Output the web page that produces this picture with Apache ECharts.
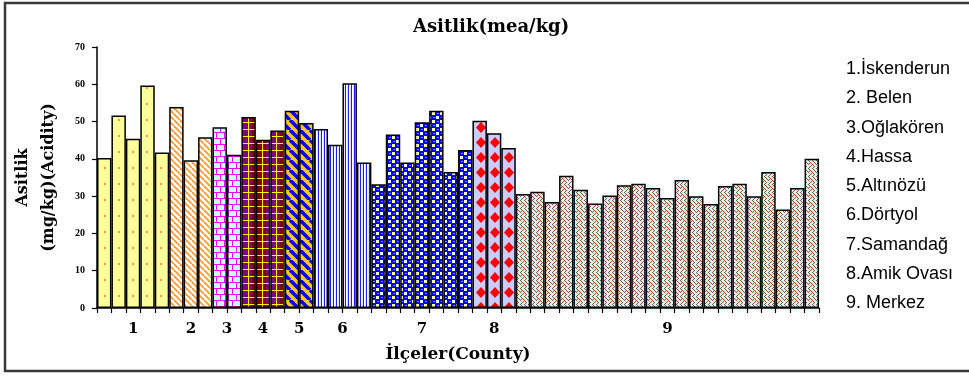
<!DOCTYPE html>
<html>
<head>
<meta charset="utf-8">
<script src="https://cdn.jsdelivr.net/npm/echarts@6/dist/echarts.min.js"></script>
<style>
  html, body { margin: 0; padding: 0; background: #fff; }
  #chart { width: 969px; height: 376px; }
</style>
</head>
<body>
<div id="chart"></div>
<script>
// Acidity (Asitlik) of samples by county (İlçe), one bar per sample
const countyNames = ['1.İskenderun', '2. Belen', '3.Oğlakören', '4.Hassa', '5.Altınözü',
                     '6.Dörtyol', '7.Samandağ', '8.Amik Ovası', '9. Merkez'];
const groupLabels = ['1', '2', '3', '4', '5', '6', '7', '8', '9'];

const iskenderun = [40.2, 51.6, 45.4, 59.7, 41.7];
const belen      = [53.9, 39.6, 45.8];
const oglakoren  = [48.5, 41.1];
const hassa      = [51.2, 45.1, 47.6];
const altinozu   = [52.9, 49.6];
const dortyol    = [48.0, 43.8, 60.3, 39.0];
const samandag   = [33.2, 46.5, 39.0, 49.8, 52.9, 36.5, 42.4];
const amikOvasi  = [50.2, 46.9, 42.9];
const merkez     = [30.6, 31.2, 28.4, 35.5, 31.7, 28.0, 30.2, 32.9, 33.3, 32.2, 29.5,
                    34.3, 30.0, 27.9, 32.7, 33.3, 30.0, 36.5, 26.4, 32.2, 40.0];

const yMin = 0, yMax = 70, yStep = 10;

const groups = [iskenderun, belen, oglakoren, hassa, altinozu, dortyol, samandag, amikOvasi, merkez];

// ---- fill patterns -------------------------------------------------------
function tile(w, h, draw) {
  const c = document.createElement('canvas');
  c.width = w; c.height = h;
  const g = c.getContext('2d');
  draw(g, w, h);
  return { image: c, repeat: 'repeat' };
}
function bitmap(rows, fg, bg) {
  return tile(rows[0].length, rows.length, (g, w, h) => {
    g.fillStyle = bg; g.fillRect(0, 0, w, h);
    g.fillStyle = fg;
    rows.forEach((r, y) => { for (let x = 0; x < r.length; x++) if (r[x] === '1') g.fillRect(x, y, 1, 1); });
  });
}
function diagonal(size, bg, fg, lw) {
  return tile(size, size, (g, w, h) => {
    g.fillStyle = bg; g.fillRect(0, 0, w, h);
    g.strokeStyle = fg; g.lineWidth = lw;
    for (let k = -1; k <= 1; k++) {
      g.beginPath(); g.moveTo(k * w, 0); g.lineTo(k * w + w, h); g.stroke();
    }
  });
}

const patterns = [
  // İskenderun: pale yellow, sparse orange dots
  tile(14, 16, g => {
    g.fillStyle = '#FFFF99'; g.fillRect(0, 0, 14, 16);
    g.fillStyle = '#FF9933'; g.fillRect(6, 7, 2, 2);
  }),
  // Belen: orange diagonal hatch on white
  diagonal(6, '#FFFFFF', '#FF9933', 1.8),
  // Oğlakören: magenta brick on light cyan
  tile(8, 12, g => {
    g.fillStyle = '#CCFFFF'; g.fillRect(0, 0, 8, 12);
    g.fillStyle = '#FF00FF';
    g.fillRect(0, 0, 8, 1); g.fillRect(0, 6, 8, 1);
    g.fillRect(0, 0, 1, 6); g.fillRect(4, 6, 1, 6);
  }),
  // Hassa: maroon / purple plaid with yellow lines
  tile(28, 7, g => {
    g.fillStyle = '#800000'; g.fillRect(0, 0, 14, 7);
    g.fillStyle = '#800080'; g.fillRect(14, 0, 14, 7);
    g.fillStyle = '#FFFF00';
    [3, 10, 17, 24].forEach(x => g.fillRect(x, 0, 1, 7));
    g.fillRect(0, 3, 28, 1);
  }),
  // Altınözü: wide blue diagonal bands on gold
  diagonal(10, '#FFCC00', '#0000FF', 3.6),
  // Dörtyol: blue vertical pinstripes
  tile(3, 1, g => {
    g.fillStyle = '#E6E6FF'; g.fillRect(0, 0, 3, 1);
    g.fillStyle = '#FFFFFF'; g.fillRect(1, 0, 1, 1);
    g.fillStyle = '#1A1AFF'; g.fillRect(0, 0, 1, 1);
  }),
  // Samandağ: blue with yellow and white checks
  tile(8, 8, g => {
    g.fillStyle = '#0000FF'; g.fillRect(0, 0, 8, 8);
    g.fillStyle = '#FFFF99'; g.fillRect(0, 0, 3, 3);
    g.fillStyle = '#FFFFFF'; g.fillRect(4, 4, 3, 3);
    g.fillStyle = '#8080FF'; g.fillRect(5, 1, 2, 1); g.fillRect(1, 5, 2, 1);
  }),
  // Amik Ovası: red diamonds on lavender
  tile(14, 15, g => {
    g.fillStyle = '#CCCCFF'; g.fillRect(0, 0, 14, 15);
    g.fillStyle = '#FF0000';
    [-9, 5, 19].forEach(cx => {
      g.beginPath();
      g.moveTo(cx, 2); g.lineTo(cx + 5, 7.5); g.lineTo(cx, 13); g.lineTo(cx - 5, 7.5);
      g.closePath(); g.fill();
    });
  }),
  // Merkez: brown weave on light cyan
  bitmap(['10001000',
          '01000100',
          '00100010',
          '01010001',
          '10001000',
          '00010100',
          '00100010',
          '01000100'], '#9C4A2E', '#C4FFFF')
];

// ---- data layout ---------------------------------------------------------
const total = groups.reduce((s, g) => s + g.length, 0);
const starts = [];
groups.reduce((s, g) => { starts.push(s); return s + g.length; }, 0);

const sampleCats = Array.from({ length: total }, (_, i) => String(i + 1));

const series = groups.map((vals, gi) => {
  const data = new Array(total).fill('-');
  vals.forEach((v, j) => { data[starts[gi] + j] = v; });
  return {
    name: countyNames[gi],
    type: 'bar',
    stack: 'all',
    barCategoryGap: 0,
    barGap: 0,
    data,
    itemStyle: { color: patterns[gi], borderColor: '#000', borderWidth: 1.5 },
    emphasis: { disabled: true }
  };
});

// Half-bar positions used to place the county numbers under each group
const halfCats = new Array(total * 2 + 1).fill('');
groups.forEach((g, gi) => { halfCats[starts[gi] * 2 + g.length] = groupLabels[gi]; });

const serif = 'DejaVu Serif';

const chart = echarts.init(document.getElementById('chart'), null, { renderer: 'canvas' });
chart.setOption({
  animation: false,
  backgroundColor: '#FFFFFF',
  title: {
    text: 'Asitlik(mea/kg)',
    left: 413, top: 18, padding: 0,
    textStyle: { fontFamily: serif, fontWeight: 'bold', fontSize: 18, color: '#000' }
  },
  legend: {
    orient: 'vertical',
    left: 836, top: 55,
    icon: 'none', itemWidth: 0, itemHeight: 18, itemGap: 11.3,
    selectedMode: false,
    textStyle: { fontFamily: 'Liberation Sans', fontSize: 18, color: '#000' },
    data: countyNames
  },
  grid: { left: 97, right: 150, top: 47, bottom: 68, containLabel: false },
  xAxis: [{
    type: 'category',
    data: sampleCats,
    boundaryGap: true,
    axisLine: { lineStyle: { color: '#000', width: 1.5 } },
    axisTick: { show: true, interval: 0, length: 5, lineStyle: { color: '#000', width: 1.2 } },
    axisLabel: { show: false },
    splitLine: { show: false }
  }, {
    type: 'category',
    position: 'bottom',
    data: halfCats,
    boundaryGap: false,
    axisLine: { show: false },
    axisTick: { show: false },
    axisLabel: { interval: 0, margin: 14, fontFamily: serif, fontWeight: 'bold', fontSize: 15, color: '#000' },
    name: 'İlçeler(County)',
    nameLocation: 'middle',
    nameGap: 38,
    nameTextStyle: { fontFamily: serif, fontWeight: 'bold', fontSize: 17, color: '#000' }
  }],
  yAxis: {
    type: 'value',
    min: yMin, max: yMax, interval: yStep,
    name: 'Asitlik\n(mg/kg)(Acidity)',
    nameLocation: 'middle',
    nameRotate: 90,
    nameGap: 35,
    nameTextStyle: { fontFamily: serif, fontWeight: 'bold', fontSize: 16, lineHeight: 26, color: '#000' },
    axisLine: { show: true, lineStyle: { color: '#000', width: 1.5 } },
    axisTick: { show: true, length: 5, lineStyle: { color: '#000', width: 1.2 } },
    axisLabel: { margin: 12, fontFamily: 'Liberation Serif', fontWeight: 'bold', fontSize: 10, color: '#000' },
    splitLine: { show: false }
  },
  graphic: [{
    type: 'rect',
    silent: true,
    z: -10,
    shape: { x: 5, y: 3, width: 975, height: 368 },
    style: { fill: 'none', stroke: '#3a3a3a', lineWidth: 2.5 }
  }],
  series
});
</script>
</body>
</html>
